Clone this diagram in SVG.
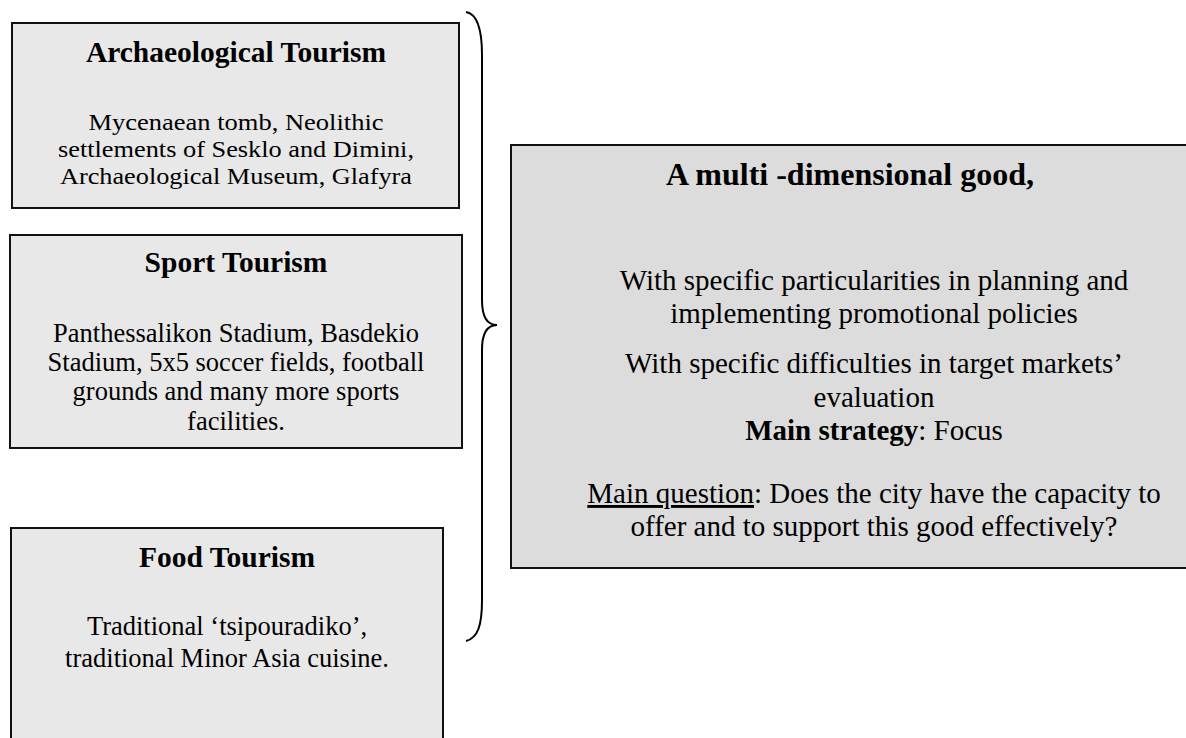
<svg xmlns="http://www.w3.org/2000/svg" width="1186" height="738" viewBox="0 0 1186 738">
<style>
.box{fill:#e8e8e8;stroke:#111;stroke-width:2}
.main{fill:#dcdcdc;stroke:#111;stroke-width:2}
text{font-family:"Liberation Serif","Times New Roman",serif;fill:#000;text-anchor:middle}
.t{font-size:29.5px;font-weight:bold}
.b{font-size:26.5px}
.s{font-size:24px}
.mb{font-size:29px}
.mt{font-size:32px;font-weight:bold}
.brace{fill:none;stroke:#000;stroke-width:2}
</style>
<rect width="1186" height="738" fill="#fff"/>
<g id="connectors">
<path class="brace" d="M466,12 C478,14 482,30 482,55 L482,300 C482,318 488,325 497,325 C488,325 482,332 482,350 L482,600 C482,625 478,638 466,641"/>
</g>
<g id="archaeological">
<rect class="box" x="12" y="23" width="447" height="185"/>
<text class="t" x="236" y="62">Archaeological Tourism</text>
<text class="s" x="236" y="130" textLength="295" lengthAdjust="spacingAndGlyphs">Mycenaean tomb, Neolithic</text>
<text class="s" x="236" y="157" textLength="356" lengthAdjust="spacingAndGlyphs">settlements of Sesklo and Dimini,</text>
<text class="s" x="236" y="184" textLength="352" lengthAdjust="spacingAndGlyphs">Archaeological Museum, Glafyra</text>
</g>
<g id="sport">
<rect class="box" x="10" y="235" width="452" height="213"/>
<text class="t" x="236" y="272">Sport Tourism</text>
<text class="b" x="236" y="342">Panthessalikon Stadium, Basdekio</text>
<text class="b" x="236" y="371">Stadium, 5x5 soccer fields, football</text>
<text class="b" x="236" y="400">grounds and many more sports</text>
<text class="b" x="236" y="430">facilities.</text>
</g>
<g id="food">
<rect class="box" x="11" y="528" width="432" height="230"/>
<text class="t" x="227" y="567">Food Tourism</text>
<text class="b" x="227" y="635">Traditional ‘tsipouradiko’,</text>
<text class="b" x="227" y="667">traditional Minor Asia cuisine.</text>
</g>
<g id="good">
<rect class="main" x="511" y="145" width="700" height="423"/>
<text class="mt" x="850" y="185">A multi -dimensional good,</text>
<text class="mb" x="874" y="290">With specific particularities in planning and</text>
<text class="mb" x="874" y="323">implementing promotional policies</text>
<text class="mb" x="874" y="373">With specific difficulties in target markets’</text>
<text class="mb" x="874" y="407">evaluation</text>
<text class="mb" x="874" y="440"><tspan font-weight="bold">Main strategy</tspan>: Focus</text>
<text class="mb" x="874" y="503"><tspan text-decoration="underline">Main question</tspan>: Does the city have the capacity to</text>
<text class="mb" x="874" y="536">offer and to support this good effectively?</text>
</g>
</svg>
